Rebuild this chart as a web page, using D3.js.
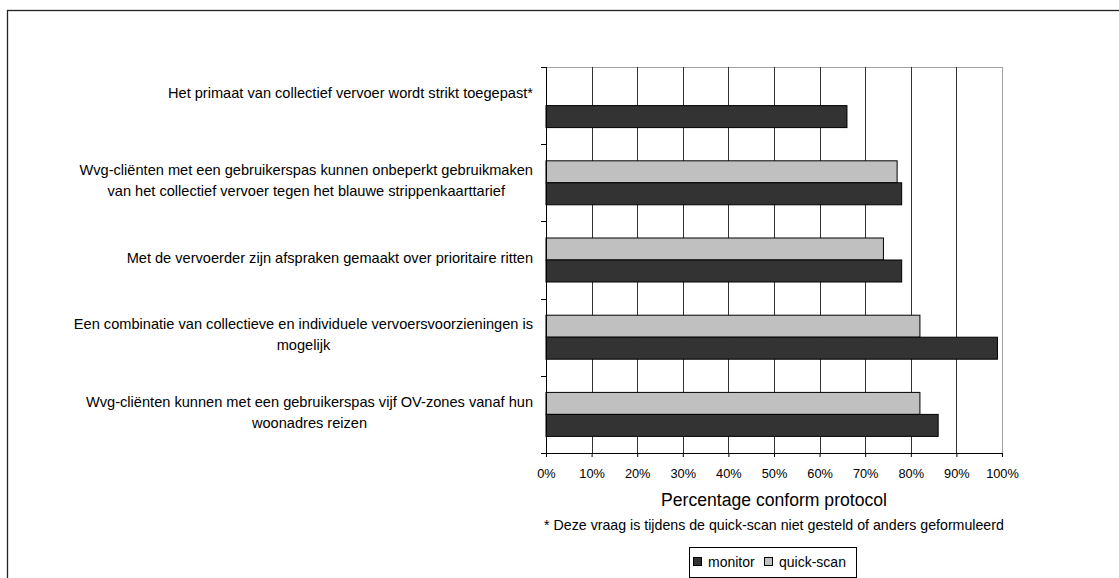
<!DOCTYPE html>
<html>
<head>
<meta charset="utf-8">
<script src="https://cdn.jsdelivr.net/npm/d3@7"></script>
<style>
  html, body { margin: 0; padding: 0; background: #fff; }
  svg { display: block; font-family: Arial, "Liberation Sans", sans-serif; }
</style>
</head>
<body>
<svg id="chart" width="1119" height="578"></svg>
<script>
// Survey items (top to bottom), each label split into its wrapped lines
const categories = [
  "Het primaat van collectief vervoer wordt strikt toegepast*",
  "Wvg-cliënten met een gebruikerspas kunnen onbeperkt gebruikmaken van het collectief vervoer tegen het blauwe strippenkaarttarief",
  "Met de vervoerder zijn afspraken gemaakt over prioritaire ritten",
  "Een combinatie van collectieve en individuele vervoersvoorzieningen is mogelijk",
  "Wvg-cliënten kunnen met een gebruikerspas vijf OV-zones vanaf hun woonadres reizen"
];
const labelLines = [
  ["Het primaat van collectief vervoer wordt strikt toegepast*", ""],
  ["Wvg-cliënten met een gebruikerspas kunnen onbeperkt gebruikmaken", "van het collectief vervoer tegen het blauwe strippenkaarttarief"],
  ["Met de vervoerder zijn afspraken gemaakt over prioritaire ritten"],
  ["Een combinatie van collectieve en individuele vervoersvoorzieningen is", "mogelijk"],
  ["Wvg-cliënten kunnen met een gebruikerspas vijf OV-zones vanaf hun", "woonadres reizen"]
];

// Percentage conform protocol per series (null = not asked in the quick-scan)
const monitor   = [66, 78, 78, 99, 86];
const quickScan = [null, 77, 74, 82, 82];

const seriesNames = ["quick-scan", "monitor"];
const legendNames = ["monitor", "quick-scan"];
const xTicks = [0, 10, 20, 30, 40, 50, 60, 70, 80, 90, 100];

const axisTitle = "Percentage conform protocol";
const footnote = "* Deze vraag is tijdens de quick-scan niet gesteld of anders geformuleerd";

const colors = { "monitor": "#333333", "quick-scan": "#c0c0c0" };

const svg = d3.select("#chart");

// Outer frame of the figure
svg.append("rect")
  .attr("x", 7.5).attr("y", 10.5)
  .attr("width", 1130).attr("height", 600)
  .attr("fill", "none").attr("stroke", "#222").attr("stroke-width", 1.3);

const plot = { left: 546, right: 1002, top: 67, bottom: 453 };

const x = d3.scaleLinear().domain([0, 100]).range([plot.left, plot.right]);
const y = d3.scaleBand().domain(categories).range([plot.top, plot.bottom]).paddingInner(0).paddingOuter(0);
const ySub = d3.scaleBand().domain(seriesNames).range([0, y.bandwidth()]).paddingInner(0).paddingOuter(0.755);

// Plot area border (light)
svg.append("rect")
  .attr("x", plot.left + 0.5).attr("y", plot.top + 0.5)
  .attr("width", plot.right - plot.left).attr("height", plot.bottom - plot.top)
  .attr("fill", "none").attr("stroke", "#a0a0a0").attr("stroke-width", 1);

// Vertical gridlines
svg.append("g")
  .selectAll("line")
  .data(xTicks.filter(t => t > 0 && t < 100))
  .join("line")
  .attr("x1", d => Math.round(x(d)) + 0.5).attr("x2", d => Math.round(x(d)) + 0.5)
  .attr("y1", plot.top).attr("y2", plot.bottom)
  .attr("stroke", "#333").attr("stroke-width", 1);

// Bars
const rows = categories.map((c, i) => ({ cat: c, values: [
  { series: "quick-scan", value: quickScan[i] },
  { series: "monitor", value: monitor[i] }
]}));

const groups = svg.append("g").selectAll("g")
  .data(rows).join("g")
  .attr("transform", d => `translate(0,${y(d.cat)})`);

groups.selectAll("rect")
  .data(d => d.values.filter(v => v.value != null))
  .join("rect")
  .attr("x", x(0))
  .attr("y", d => ySub(d.series))
  .attr("width", d => x(d.value) - x(0))
  .attr("height", ySub.bandwidth())
  .attr("fill", d => colors[d.series])
  .attr("stroke", "#000").attr("stroke-width", 1);

// Bottom axis
const xAxis = d3.axisBottom(x)
  .tickValues(xTicks)
  .tickFormat(d => d + "%")
  .tickSizeInner(4).tickSizeOuter(0).tickPadding(12);
const gx = svg.append("g").attr("transform", `translate(0,${plot.bottom})`).call(xAxis);
gx.select(".domain").attr("stroke", "#000");
gx.selectAll(".tick line").attr("stroke", "#000");
gx.selectAll("text").attr("font-size", 12.8).attr("fill", "#000")
  .attr("font-family", "Arial, 'Liberation Sans', sans-serif");

// Left axis: line with ticks at the category boundaries
const gy = svg.append("g");
gy.append("line")
  .attr("x1", plot.left + 0.5).attr("x2", plot.left + 0.5)
  .attr("y1", plot.top).attr("y2", plot.bottom + 4)
  .attr("stroke", "#000");
const boundaries = categories.map(c => y(c)).concat([plot.bottom]);
gy.selectAll("line.tk").data(boundaries).join("line").attr("class", "tk")
  .attr("x1", plot.left - 5).attr("x2", plot.left)
  .attr("y1", d => Math.round(d) + 0.5).attr("y2", d => Math.round(d) + 0.5)
  .attr("stroke", "#000");

// Category labels: wrapped lines centered on each other, block right-aligned
const labelRight = 533;
const lineH = 21;
const labelG = svg.append("g").attr("font-size", 14.6).attr("fill", "#000");
categories.forEach((c, i) => {
  const lines = labelLines[i];
  const g = labelG.append("g");
  const texts = lines.map((ln, j) => g.append("text")
    .attr("y", y(c) + y.bandwidth() / 2 - 2.5 + (j - (lines.length - 1) / 2) * lineH)
    .attr("dy", "0.35em")
    .attr("text-anchor", "middle")
    .text(ln));
  const maxW = d3.max(texts, t => t.node().getComputedTextLength());
  texts.forEach(t => t.attr("x", labelRight - maxW / 2));
});

// Axis title and footnote
const cx = (plot.left + plot.right) / 2;
svg.append("text").attr("x", cx).attr("y", 506)
  .attr("text-anchor", "middle").attr("font-size", 17.6).text(axisTitle);
svg.append("text").attr("x", cx).attr("y", 530)
  .attr("text-anchor", "middle").attr("font-size", 14.2).text(footnote);

// Legend
const legend = svg.append("g");
legend.append("rect")
  .attr("x", 689.5).attr("y", 547.5).attr("width", 167).attr("height", 30)
  .attr("fill", "#fff").attr("stroke", "#000");
const legendX = [693, 764];
legendNames.forEach((n, i) => {
  legend.append("rect")
    .attr("x", legendX[i] + 0.5).attr("y", 557.5).attr("width", 8).attr("height", 8)
    .attr("fill", colors[n]).attr("stroke", "#000");
  legend.append("text")
    .attr("x", legendX[i] + 15).attr("y", 566.5)
    .attr("font-size", 14).text(n);
});
</script>
</body>
</html>
